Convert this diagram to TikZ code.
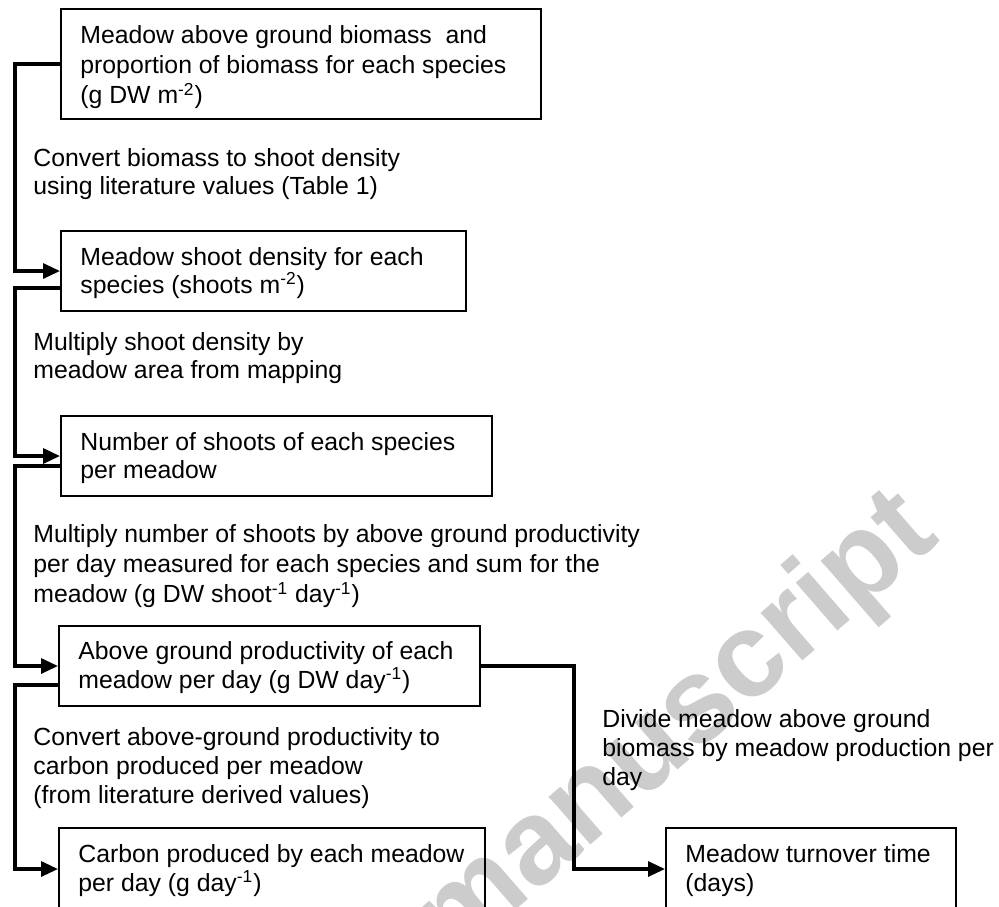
\documentclass[tikz,border=0pt]{standalone}
\usepackage{fontspec}
\setmainfont{Liberation Sans}
\usetikzlibrary{arrows.meta,calc}
\newcommand\mylines[1]{\begin{tabular}[t]{@{}l@{}}#1\end{tabular}}
\newcommand\sps[1]{\smash{\textsuperscript{#1}}}
\begin{document}
\begin{tikzpicture}[x=0.5pt,y=-0.5pt,
  box/.style={draw=black, line width=1pt, rectangle, inner sep=0pt, anchor=north west},
  txt/.style={anchor=base west, inner sep=0pt, font=\fontsize{12.4pt}{14.6pt}\selectfont},
  txtw/.style={anchor=base west, inner sep=0pt, font=\fontsize{12.4pt}{15.2pt}\selectfont},
  txtn/.style={anchor=base west, inner sep=0pt, font=\fontsize{12.4pt}{14pt}\selectfont},
  conn/.style={draw=black, line width=1.6pt, -{Triangle[length=8.5pt,width=7.5pt]}},
  wmark/.style={rotate=41, anchor=base, inner sep=0pt, text=black!20,
    font=\fontsize{60pt}{70pt}\selectfont\bfseries}
]
\useasboundingbox (0,0) rectangle (999,906);
\clip (0,0) rectangle (999,906);
\fill[white] (0,0) rectangle (999,906);

% watermark
\node[wmark] (wm) at (698,752) {manuscript};

% boxes
\node[box, minimum width=240pt, minimum height=55pt] (b1) at (60,8) {};
\node[box, minimum width=202.5pt, minimum height=40pt] (b2) at (60,230) {};
\node[box, minimum width=215.5pt, minimum height=40pt] (b3) at (60,415) {};
\node[box, minimum width=210.5pt, minimum height=40pt] (b4) at (58,625) {};
\node[box, minimum width=213pt, minimum height=41pt] (b5) at (58,827) {};
\node[box, minimum width=145pt, minimum height=41pt] (b6) at (665,827) {};

% box texts
\node[txtw] (t1) at (80,43) {\mylines{Meadow above ground biomass~ and\\proportion of biomass for each species\\(g DW m\sps{-2})}};
\node[txtn] (t2) at (80,265) {\mylines{Meadow shoot density for each\\species (shoots m\sps{-2})}};
\node[txtn] (t3) at (80,450) {\mylines{Number of shoots of each species\\per meadow}};
\node[txt] (t4) at (78,659) {\mylines{Above ground productivity of each\\meadow per day (g DW day\sps{-1})}};
\node[txt] (t5) at (78,862) {\mylines{Carbon produced by each meadow\\per day (g day\sps{-1})}};
\node[txt] (t6) at (685,862) {\mylines{Meadow turnover time\\(days)}};

% step labels
\node[txtn] (l1) at (33,166) {\mylines{Convert biomass to shoot density\\using literature values (Table 1)}};
\node[txtn] (l2) at (33,350) {\mylines{Multiply shoot density by\\meadow area from mapping}};
\node[txtw] (l3) at (33,542) {\mylines{Multiply number of shoots by above ground productivity\\per day measured for each species and sum for the\\meadow (g DW shoot\sps{-1} day\sps{-1})}};
\node[txt] (l4) at (33,745) {\mylines{Convert above-ground productivity to\\carbon produced per meadow\\(from literature derived values)}};
\node[txt] (l5) at (602,727) {\mylines{Divide meadow above ground\\biomass by meadow production per\\day}};

% connectors
\draw[conn] (b1.west) -- ++(-45,0) |- (b2.west);
\draw[conn] ([yshift=-8.5pt]b2.west) -- ++(-45,0) |- (b3.west);
\draw[conn] ([yshift=-5pt]b3.west) -- ++(-45,0) |- (b4.west);
\draw[conn] ([yshift=-9.5pt]b4.west) -- ++(-43,0) |- (b5.west);
\draw[conn] (b4.east) -- ++(93,0) |- (b6.west);
\end{tikzpicture}
\end{document}
